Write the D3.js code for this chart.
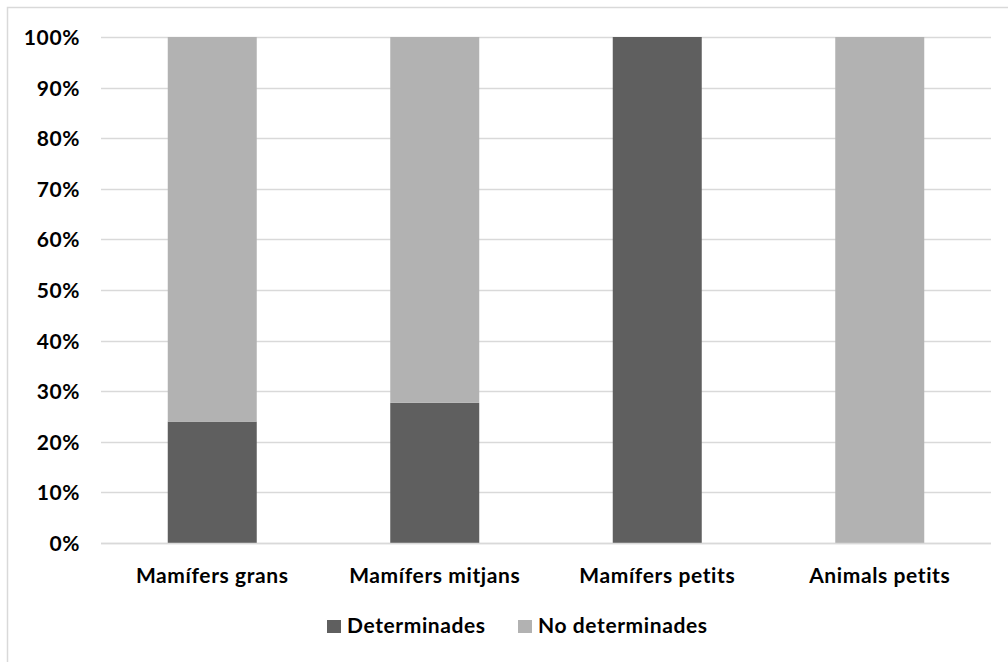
<!DOCTYPE html>
<html><head><meta charset="utf-8">
<script src="https://cdn.jsdelivr.net/npm/d3@7"></script>
<style>body{margin:0;background:#fff}svg{display:block}</style>
</head><body>
<svg id="c" width="1008" height="662"></svg>
<script>
const categories = ["Mamífers grans","Mamífers mitjans","Mamífers petits","Animals petits"];
const determinades = [0.24, 0.277, 1.0, 0.0];
const noDeterminades = [0.76, 0.723, 0.0, 1.0];
const seriesNames = ["Determinades","No determinades"];
const colors = ["#5f5f5f","#b2b2b2"];
const tickValues = [0,0.1,0.2,0.3,0.4,0.5,0.6,0.7,0.8,0.9,1.0];

const svg = d3.select("#c");
const font = "Lato, 'Open Sans', sans-serif";
const fs = 21, ls = "0.6px";
svg.append("rect").attr("x",7.5).attr("y",7.5).attr("width",1100).attr("height",1100)
  .attr("fill","#fff").attr("stroke","#d9d9d9").attr("stroke-width",1.5);

const L=101,R=991,T=37,B=543;
const x = d3.scaleBand().domain(categories).range([L,R]).paddingInner(0.6).paddingOuter(0.3);
const y = d3.scaleLinear().domain([0,1]).range([B,T]);

svg.append("g").selectAll("line").data(tickValues).join("line")
  .attr("x1",L).attr("x2",R).attr("y1",d=>Math.round(y(d))+0.5).attr("y2",d=>Math.round(y(d))+0.5)
  .attr("stroke","#d9d9d9").attr("stroke-width",1.5);

const yAxis = d3.axisLeft(y).tickValues(tickValues).tickFormat(d3.format(".0%")).tickSize(0).tickPadding(0);
const ya = svg.append("g").attr("transform",`translate(80,0)`).call(yAxis);
ya.select(".domain").remove();
ya.selectAll("text").attr("font-family",font).attr("font-weight","bold").attr("font-size",fs)
  .attr("letter-spacing",ls).attr("fill","#000").attr("dy","0.36em");

const data = categories.map((c,i)=>({c, v:[determinades[i], noDeterminades[i]]}));
const stack = d3.stack().keys([0,1]).value((d,k)=>d.v[k]);
const series = stack(data);
svg.selectAll("g.s").data(series).join("g").attr("class","s").attr("fill",(d,i)=>colors[i])
  .selectAll("rect").data(d=>d).join("rect")
  .attr("x",d=>x(d.data.c)).attr("width",x.bandwidth())
  .attr("y",d=>y(d[1])).attr("height",d=>y(d[0])-y(d[1]));

svg.append("line").attr("x1",L).attr("x2",R).attr("y1",B+0.5).attr("y2",B+0.5).attr("stroke","#d9d9d9").attr("stroke-width",1.5);

const xAxis = d3.axisBottom(x).tickSize(0).tickPadding(0);
const xa = svg.append("g").attr("transform",`translate(0,583)`).call(xAxis);
xa.select(".domain").remove();
xa.selectAll("text").attr("font-family",font).attr("font-weight","bold").attr("font-size",fs)
  .attr("letter-spacing",ls).attr("fill","#000").attr("y",0).attr("dy",0);

const legX=[327,518];
const lg = svg.selectAll("g.leg").data(seriesNames).join("g").attr("class","leg").attr("transform",(d,i)=>`translate(${legX[i]},620)`);
lg.append("rect").attr("width",14).attr("height",13).attr("fill",(d,i)=>colors[i]);
lg.append("text").attr("x",20).attr("y",13).text(d=>d)
  .attr("font-family",font).attr("font-weight","bold").attr("font-size",fs).attr("letter-spacing",ls).attr("fill","#000");
</script>
</body></html>
